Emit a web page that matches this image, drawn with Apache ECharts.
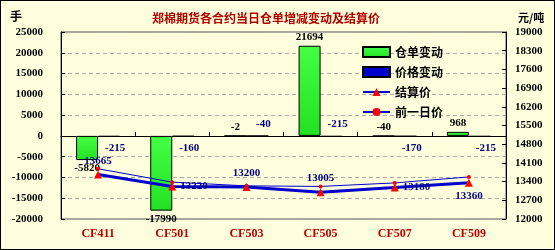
<!DOCTYPE html>
<html><head><meta charset="utf-8">
<script src="https://cdn.jsdelivr.net/npm/echarts@6/dist/echarts.min.js"></script>
<style>html,body{margin:0;padding:0;background:#FFFFDD;}#c{width:553px;height:248px;border:1px solid #000;}</style>
</head><body><div id="c"></div>
<script>
const categories = ['CF411','CF501','CF503','CF505','CF507','CF509'];
const warehouseChange = [-5820, -17990, -2, 21694, -40, 968];
const priceChange = [-215, -160, -40, -215, -170, -215];
const settlePrice = [13665, 13220, 13200, 13005, 13180, 13360];
const prevPrice = [13880, 13380, 13240, 13220, 13350, 13575];
const leftTicks = [-20000,-15000,-10000,-5000,0,5000,10000,15000,20000,25000];
const rightTicks = [12000,12700,13400,14100,14800,15500,16200,16900,17600,18300,19000];

const numFont = 'Liberation Serif';
const cjk = 'Noto Sans CJK SC';
const priceLabelPos = ['bottom','bottom','top','top','bottom','bottom'];
const settleLabelPos = ['top','right','top','top','right','bottom'];
const plain = v => String(v);

const chart = echarts.init(document.getElementById('c'));
chart.setOption({
  animation: false,
  backgroundColor: '#FFFFDD',
  title: [
    {text: '郑棉期货各合约当日仓单增减变动及结算价', left: 260, textAlign: 'center', top: 6,
      textStyle: {color: '#B00000', fontSize: 12, fontWeight: 'bold', fontFamily: cjk}},
    {text: '手', left: 4, top: 4, textStyle: {color: '#000', fontSize: 12, fontWeight: 'bold', fontFamily: cjk}},
    {text: '元/吨', left: 512, top: 6, textStyle: {color: '#000', fontSize: 11, fontWeight: 'bold', fontFamily: cjk}}
  ],
  legend: {
    orient: 'vertical', left: 356, top: 40, itemWidth: 27, itemHeight: 10, itemGap: 8,
    textStyle: {fontFamily: cjk, fontWeight: 'bold', fontSize: 12, color: '#000'},
    data: [
      {name: '仓单变动', icon: 'rect'},
      {name: '价格变动', icon: 'rect'},
      {name: '结算价'},
      {name: '前一日价'}
    ]
  },
  grid: {left: 60, right: 48, top: 31, bottom: 30, show: true, borderColor: '#555', borderWidth: 1, backgroundColor: 'transparent'},
  xAxis: [
    {type: 'category', data: categories, position: 'bottom',
      axisLine: {onZero: true, onZeroAxisIndex: 0, lineStyle: {color: '#000', width: 1}},
      axisTick: {show: true, inside: true, length: 4, lineStyle: {color: '#000'}},
      axisLabel: {show: false}},
    {type: 'category', data: categories, position: 'bottom',
      axisLine: {show: false}, axisTick: {show: false},
      axisLabel: {color: '#C00000', fontFamily: numFont, fontWeight: 'bold', fontSize: 12, margin: 9}}
  ],
  yAxis: [
    {type: 'value', min: -20000, max: 25000, interval: 5000, position: 'left',
      axisLine: {show: true, lineStyle: {color: '#000'}},
      axisTick: {show: true, inside: true, length: 4, lineStyle: {color: '#000'}},
      splitLine: {show: true, lineStyle: {color: '#aaa', type: [4, 3]}},
      axisLabel: {color: '#000', fontFamily: numFont, fontWeight: 'bold', fontSize: 11, margin: 18, formatter: plain}},
    {type: 'value', min: 12000, max: 19000, position: 'right',
      axisLine: {show: true, lineStyle: {color: '#000'}},
      axisTick: {show: true, inside: true, length: 4, lineStyle: {color: '#000'}, customValues: rightTicks},
      splitLine: {show: false},
      axisLabel: {color: '#000', fontFamily: numFont, fontWeight: 'bold', fontSize: 11, margin: 9, customValues: rightTicks, formatter: plain}}
  ],
  series: [
    {name: '仓单变动', type: 'bar', xAxisIndex: 0, yAxisIndex: 0, barWidth: 22, barGap: '0%',
      itemStyle: {color: {type: 'linear', x: 0, y: 0, x2: 0, y2: 1, colorStops: [{offset: 0, color: '#44FF44'}, {offset: 1, color: '#22E022'}]}, borderColor: '#000', borderWidth: 1},
      data: warehouseChange.map(v => ({value: v, label: {position: v < -1000 ? 'bottom' : 'top'}})),
      label: {show: true, color: '#000', fontFamily: numFont, fontWeight: 'bold', fontSize: 11, distance: 3}},
    {name: '价格变动', type: 'bar', xAxisIndex: 0, yAxisIndex: 0, barWidth: 22,
      itemStyle: {color: '#0000CC', borderColor: '#000', borderWidth: 1},
      data: priceChange.map((v, i) => ({value: v, label: {position: priceLabelPos[i]}})),
      label: {show: true, color: '#000080', fontFamily: numFont, fontWeight: 'bold', fontSize: 11, distance: 6, offset: [6, 0]}},
    {name: '结算价', type: 'line', xAxisIndex: 0, yAxisIndex: 1, z: 5,
      lineStyle: {color: '#0000CC', width: 3}, itemStyle: {color: '#FF0000'},
      symbol: 'triangle', symbolSize: 8,
      data: settlePrice.map((v, i) => ({value: v, label: {position: settleLabelPos[i]}})),
      label: {show: true, color: '#000080', fontFamily: numFont, fontWeight: 'bold', fontSize: 11, distance: 4}},
    {name: '前一日价', type: 'line', xAxisIndex: 0, yAxisIndex: 1, z: 4,
      lineStyle: {color: '#0000CC', width: 1}, itemStyle: {color: '#FF0000'},
      symbol: 'circle', symbolSize: 4,
      data: prevPrice}
  ]
});
</script></body></html>
